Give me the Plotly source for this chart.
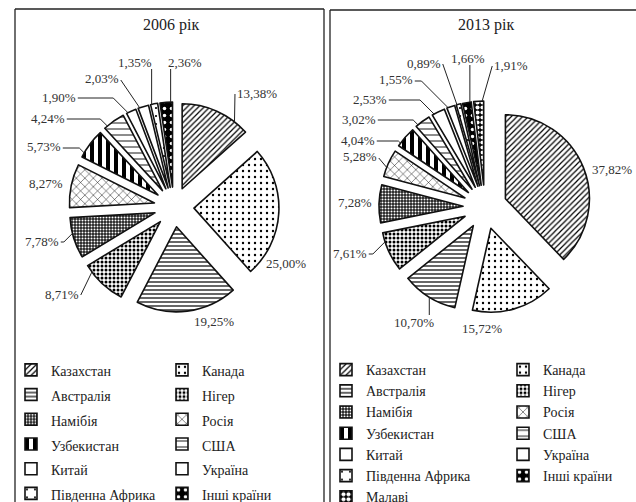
import math
import plotly.graph_objects as go

# ---------------- data ----------------
categories_2006 = ["Казахстан", "Канада", "Австралія", "Нігер", "Намібія", "Росія",
                   "Узбекистан", "США", "Китай", "Україна", "Південна Африка", "Інші країни"]
share_2006 = [13.38, 25.00, 19.25, 8.71, 7.78, 8.27, 5.73, 4.24, 1.90, 2.03, 1.35, 2.36]

categories_2013 = ["Казахстан", "Канада", "Австралія", "Нігер", "Намібія", "Росія",
                   "Узбекистан", "США", "Китай", "Україна", "Південна Африка", "Інші країни",
                   "Малаві"]
share_2013 = [37.82, 15.72, 10.70, 7.61, 7.28, 5.28, 4.04, 3.02, 2.53, 1.55, 0.89, 1.66, 1.91]

titles = ["2006 рік", "2013 рік"]

# ---------------- layout constants ----------------
W, H = 636, 502
ML, MR, MT, MB = 68, 44, 0, 0
GW, GH = W - ML - MR, H - MT - MB
SERIF = "Liberation Serif"
INK = "#222222"

PIE_GEOM = [dict(center=(174, 207), r=85, pull=0.235),
            dict(center=(485, 207), r=84, pull=0.262)]

# positions of the percentage labels (text centres, px)
LABEL_POS_2006 = [(257, 93), (286, 263), (214, 321), (62, 294), (42, 241), (46, 183),
                  (44, 147), (48, 118), (59, 97), (102, 79), (135, 62), (185, 62)]
LABEL_POS_2013 = [(612, 170), (482, 328), (414, 322), (350, 253), (355, 202), (360, 157),
                  (358, 140), (359, 119), (370, 99), (396, 80), (424, 63), (468, 58), (511, 65)]

# pattern style per category: shape, size, solidity, fg, bg
STYLE = {
    "Казахстан": ("/", 4, 0.3, "black", "white"),
    "Канада": (".", 6, 0.12, "black", "white"),
    "Австралія": ("-", 4, 0.3, "black", "white"),
    "Нігер": (".", 4, 0.45, "black", "white"),
    "Намібія": (".", 3, 0.35, "white", "#202020"),
    "Росія": ("x", 6, 0.15, "black", "white"),
    "Узбекистан": ("|", 8, 0.5, "black", "white"),
    "США": ("-", 6, 0.15, "black", "white"),
    "Китай": ("", 6, 0.2, "black", "white"),
    "Україна": ("", 6, 0.2, "black", "white"),
    "Південна Африка": (".", 8, 0.06, "black", "white"),
    "Інші країни": (".", 7, 0.2, "white", "black"),
    "Малаві": (".", 5, 0.55, "white", "black"),
}


def X(px):
    return (px - ML) / GW


def Y(py):
    return 1 - (py - MT) / GH


def fmt(v):
    return f"{v:.2f}".replace(".", ",") + "%"


fig = go.Figure()
shapes, annotations = [], []

datasets = [(categories_2006, share_2006, LABEL_POS_2006, "legend", 16.7),
            (categories_2013, share_2013, LABEL_POS_2013, "legend2", 14)]

for k, (cats, vals, lpos, leg, legsize) in enumerate(datasets):
    g = PIE_GEOM[k]
    cx, cy = g["center"]
    r, p = g["r"], g["pull"]
    half = r * (1 + p)
    dom_x = [max(0.0, X(cx - half)), min(1.0, X(cx + half))]
    dom_y = [Y(cy + half), Y(cy - half)]
    st = [STYLE[c] for c in cats]
    if legsize != 14:
        labels = [f'<span style="font-size:14px">{c}</span>' for c in cats]
    else:
        labels = list(cats)
    fig.add_trace(go.Pie(
        labels=labels, values=vals, sort=False, direction="clockwise", rotation=0,
        pull=p, domain=dict(x=dom_x, y=dom_y), textinfo="none",
        hovertemplate="%{label}: %{value}%<extra></extra>",
        marker=dict(colors=[s[4] for s in st],
                    line=dict(color="#111111", width=1.6),
                    pattern=dict(shape=[s[0] for s in st], size=[s[1] for s in st],
                                 solidity=[s[2] for s in st], fgcolor=[s[3] for s in st],
                                 bgcolor=[s[4] for s in st], fillmode="replace")),
        legend=leg, showlegend=True, name=titles[k]))

    # percentage labels with leader lines
    total = sum(vals)
    cum = 0.0
    for v, (lx, ly) in zip(vals, lpos):
        th1 = 360 * cum / total
        cum += v
        th2 = 360 * cum / total
        thm = (th1 + th2) / 2
        px_ = cx + p * r * math.sin(math.radians(thm))
        py_ = cy - p * r * math.cos(math.radians(thm))
        txt = fmt(v)
        annotations.append(dict(x=X(lx), y=Y(ly), xref="paper", yref="paper", text=txt,
                                showarrow=False, xanchor="center", yanchor="middle",
                                font=dict(family=SERIF, size=13, color="#333333")))
        ang = math.degrees(math.atan2(lx - px_, -(ly - py_))) % 360
        d = ((ang - thm + 180) % 360) - 180
        hspan = 0.35 * (th2 - th1)
        a = thm + max(-hspan, min(hspan, d))
        qx = px_ + r * math.sin(math.radians(a))
        qy = py_ - r * math.cos(math.radians(a))
        hw = (sum(ch.isdigit() for ch in txt) * 6.5 + 3.25 + 10.8) / 2
        hh = 7
        dxb = max(lx - hw - qx, 0, qx - (lx + hw))
        dyb = max(ly - hh - qy, 0, qy - (ly + hh))
        if math.hypot(dxb, dyb) < 10:
            continue
        if lx - hw <= qx <= lx + hw:
            sy = ly - hh if qy < ly else ly + hh
            path = f"M{X(qx)},{Y(sy)} L{X(qx)},{Y(qy)}"
        else:
            side = -1 if qx < lx else 1
            sx, sy = lx + side * (hw + 2), ly + 1
            ex = qx - side * abs(qy - sy)
            if side * (ex - sx) < 0:
                ex = sx
            path = f"M{X(sx)},{Y(sy)} L{X(ex)},{Y(sy)} L{X(qx)},{Y(qy)}"
        shapes.append(dict(type="path", path=path, xref="paper", yref="paper",
                           line=dict(color=INK, width=1)))

# titles
for t, xc in zip(titles, [171, 486]):
    annotations.append(dict(x=X(xc), y=Y(25), xref="paper", yref="paper", text=t,
                            showarrow=False, xanchor="center", yanchor="middle",
                            font=dict(family=SERIF, size=16, color=INK)))

# panel frames
for (x0, y0, x1, y1) in [(15, 9, 15, 520), (15, 9, 324, 9), (324, 9, 324, 520),
                         (330, 10, 330, 520), (330, 10, 660, 10)]:
    shapes.append(dict(type="line", xref="paper", yref="paper", x0=X(x0), y0=Y(y0),
                       x1=X(x1), y1=Y(y1), line=dict(color=INK, width=1.3)))

fig.update_layout(
    width=W, height=H,
    margin=dict(l=ML, r=MR, t=MT, b=MB, autoexpand=False),
    paper_bgcolor="white", plot_bgcolor="white",
    shapes=shapes, annotations=annotations,
    legend=dict(orientation="h", x=X(11), xanchor="left", y=Y(352.5), yanchor="top",
                entrywidth=106, entrywidthmode="pixels", traceorder="normal",
                font=dict(family=SERIF, size=16.7, color=INK), bgcolor="rgba(0,0,0,0)"),
    legend2=dict(orientation="h", x=X(326), xanchor="left", y=Y(354), yanchor="top",
                 entrywidth=132, entrywidthmode="pixels", traceorder="normal",
                 font=dict(family=SERIF, size=14, color=INK), bgcolor="rgba(0,0,0,0)"),
)

fig.write_html("out.html", config={"displayModeBar": False},
               post_script="document.body.style.margin='0px';")
